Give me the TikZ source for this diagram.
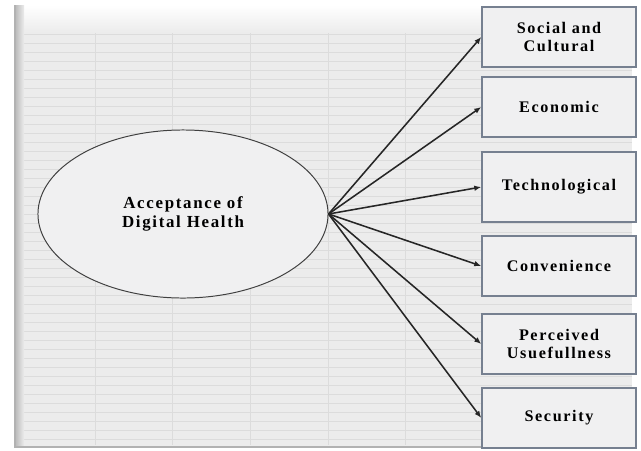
\documentclass[tikz,border=0pt]{standalone}
\usepackage{fontspec}
\setmainfont{Liberation Serif}
\newfontfamily\spacedfont[LetterSpace=10]{Liberation Serif}
\usepackage{xcolor}
\definecolor{bgpanel}{RGB}{236,236,236}
\definecolor{gridline}{RGB}{220,220,220}
\definecolor{boxfill}{RGB}{240,240,241}
\definecolor{boxedge}{RGB}{118,128,144}
\usetikzlibrary{arrows.meta,positioning,shapes.geometric}

\begin{document}
\begin{tikzpicture}[x=0.025cm,y=-0.025cm,
  construct/.style={draw=black!75,fill=boxfill,ellipse,line width=0.7pt,
    minimum width=7.25cm,minimum height=4.2cm,align=center,
    font=\spacedfont\bfseries\fontsize{12}{13}\selectfont},
  factor/.style={draw=boxedge,fill=boxfill,line width=1pt,
    minimum width=3.85cm,minimum height=1.5cm,align=center,
    font=\spacedfont\bfseries\fontsize{11.5}{12.5}\selectfont},
  link/.style={-{Latex[length=5pt,width=4pt]},line width=1.1pt,black!85}
]
  \useasboundingbox (0,0) rectangle (641,450);
  % panel with faint grid
  \fill[white] (0,0) rectangle (641,450);
  \fill[bgpanel] (15,5) rectangle (632,447);
  \foreach \gy in {34,43,...,440} \draw[gridline,line width=0.3pt] (17,\gy) -- (632,\gy);
  \foreach \gx in {95,172,250,328,405} \draw[gridline,line width=0.4pt] (\gx,30) -- (\gx,445);
  \shade[top color=white,bottom color=bgpanel] (15,5) rectangle (632,32);
  \shade[left color=gray!55,right color=bgpanel] (15,5) rectangle (24,447);
  \draw[gray!60,line width=1pt] (15,5) -- (15,447) -- (632,447);

  % construct
  \node[construct] (adh) at (183,214) {Acceptance of\\Digital Health};

  % factors
  \node[factor] (soc) at (559,37) {Social and\\Cultural};
  \node[factor] (eco) at (559,107) {Economic};
  \node[factor,minimum height=1.75cm] (tec) at (559,187) {Technological};
  \node[factor] (con) at (559,266) {Convenience};
  \node[factor] (pu) at (559,344) {Perceived\\Usuefullness};
  \node[factor] (sec) at (559,418) {Security};

  % arrows
  \foreach \f in {soc,eco,tec,con,pu,sec}
    \draw[link] (adh.east) -- (\f.west);
\end{tikzpicture}
\end{document}
